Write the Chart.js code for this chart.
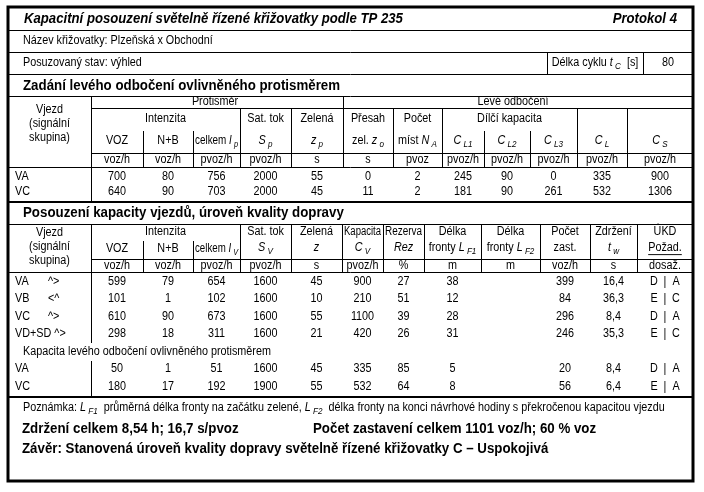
<!DOCTYPE html>
<html>
<head>
<meta charset="utf-8">
<script src="https://cdn.jsdelivr.net/npm/chart.js@4"></script>
<style>
  html, body { margin: 0; padding: 0; background: #fff; }
  canvas { display: block; }
</style>
</head>
<body>
<canvas id="protokol" width="704" height="492"></canvas>
<script>
// ---- hodnoty z protokolu ----
const nazevKrizovatky = 'Plzeňská x Obchodní';
const stav = 'výhled';
const delkaCyklu = 80;

// zadání levého odbočení ovlivněného protisměrem
const lo_vjezd = ['VA', 'VC'];
const lo_voz = [700, 640];
const lo_nb = [80, 90];
const lo_ip = [756, 703];
const lo_sp = [2000, 2000];
const lo_zp = [55, 45];
const lo_zo = [0, 11];
const lo_na = [2, 2];
const lo_cl1 = [245, 181];
const lo_cl2 = [90, 90];
const lo_cl3 = [0, 261];
const lo_cl = [335, 532];
const lo_cs = [900, 1306];

// posouzení kapacity vjezdů
const pk_vjezd = ['VA', 'VB', 'VC', 'VD+SD', 'VA', 'VC'];
const pk_smer = ['^>', '<^', '^>', '^>', '', ''];
const pk_voz = [599, 101, 610, 298, 50, 180];
const pk_nb = [79, 1, 90, 18, 1, 17];
const pk_iv = [654, 102, 673, 311, 51, 192];
const pk_sv = [1600, 1600, 1600, 1600, 1600, 1900];
const pk_z = [45, 10, 55, 21, 45, 55];
const pk_cv = [900, 210, 1100, 420, 335, 532];
const pk_rez = [27, 51, 39, 26, 85, 64];
const pk_lf1 = [38, 12, 28, 31, 5, 8];
const pk_lf2 = ['', '', '', '', '', ''];
const pk_zast = [399, 84, 296, 246, 20, 56];
const pk_tw = ['16,4', '36,3', '8,4', '35,3', '8,4', '6,4'];
const pk_ukdPoz = ['D', 'E', 'D', 'E', 'D', 'E'];
const pk_ukdDos = ['A', 'C', 'A', 'C', 'A', 'A'];

const zdrzeniH = '8,54';
const zdrzeniS = '16,7';
const zastaveni = 1101;
const zastaveniPct = 60;
const urovenKvality = 'C – Uspokojivá';

// ---- rozvržení (px v souřadnicích os) ----
const W = 704, H = 492;
const sloupce1 = [8, 91, 143, 193, 240, 291, 343, 393, 442, 484, 530, 577, 627, 693];
const sloupce2 = [8, 91, 143, 193, 240, 291, 342, 383, 424, 481, 540, 590, 637, 693];
const radky1 = [176.5, 192];
const radky2 = [281.5, 299, 316.5, 334, 369, 387];
const radekKapacitaLO = 352;

const FONT = '"Liberation Sans", Arial, Helvetica, sans-serif';
const SX = 0.9;   // text je v předloze mírně zúžený

function stred(edges, i, j) {
  j = j === undefined ? i : j;
  return (edges[i] + edges[j + 1]) / 2;
}
function sirka(edges, i, j) {
  j = j === undefined ? i : j;
  return edges[j + 1] - edges[i] - 4;
}

const tabulkaPlugin = {
  id: 'tabulka',
  afterDraw(chart) {
    const ctx = chart.ctx;
    const sx = chart.scales.x, sy = chart.scales.y;
    const X = v => sx.getPixelForValue(v);
    const Y = v => sy.getPixelForValue(v);

    ctx.save();
    ctx.fillStyle = '#fff';
    ctx.fillRect(0, 0, W, H);
    ctx.strokeStyle = '#000';
    ctx.fillStyle = '#000';
    ctx.textBaseline = 'middle';

    function hline(x1, x2, y, w) {
      w = w || 1;
      const yy = Math.round(Y(y)) + (w % 2 ? 0.5 : 0);
      ctx.lineWidth = w;
      ctx.beginPath(); ctx.moveTo(X(x1), yy); ctx.lineTo(X(x2), yy); ctx.stroke();
    }
    function vline(x, y1, y2, w) {
      w = w || 1;
      const xx = Math.round(X(x)) + (w % 2 ? 0.5 : 0);
      ctx.lineWidth = w;
      ctx.beginPath(); ctx.moveTo(xx, Y(y1)); ctx.lineTo(xx, Y(y2)); ctx.stroke();
    }

    // segs: řetězec nebo pole [text, 'i' kurzíva | 's' index | 'u' podtržení]
    function text(segs, x, y, align, o) {
      o = Object.assign({ size: 12, bold: false, italic: false, sx: SX, maxW: 0 }, o || {});
      if (!Array.isArray(segs)) segs = [[String(segs)]];
      const parts = segs.map(s => Array.isArray(s) ? s : [s]);
      const fontOf = f => {
        const it = o.italic || f === 'i' || f === 's';
        const sz = f === 's' ? Math.round(o.size * 0.72) : o.size;
        return (it ? 'italic ' : '') + (o.bold ? 'bold ' : '') + sz + 'px ' + FONT;
      };
      let total = 0;
      const widths = parts.map(p => {
        ctx.font = fontOf(p[1]);
        const w = ctx.measureText(p[0]).width;
        total += w;
        return w;
      });
      let k = o.sx;
      if (o.maxW && total * k > o.maxW) k = o.maxW / total;
      let x0 = X(x);
      if (align === 'center') x0 -= total * k / 2;
      else if (align === 'right') x0 -= total * k;
      ctx.save();
      ctx.translate(x0, Y(y));
      ctx.scale(k, 1);
      let cx = 0;
      parts.forEach((p, n) => {
        ctx.font = fontOf(p[1]);
        const dy = p[1] === 's' ? o.size * 0.3 : 0;
        ctx.fillText(p[0], cx, dy);
        if (p[1] === 'u') {
          ctx.lineWidth = 1;
          ctx.beginPath();
          ctx.moveTo(cx, o.size * 0.55);
          ctx.lineTo(cx + widths[n], o.size * 0.55);
          ctx.stroke();
        }
        cx += widths[n];
      });
      ctx.restore();
      return x0 + total * k;
    }
    const bunka = (segs, edges, i, y, j) =>
      text(segs, stred(edges, i, j), y, 'center', { maxW: sirka(edges, i, j) });

    // ---- hlavička protokolu ----
    text('Kapacitní posouzení světelně řízené křižovatky podle TP 235', 24, 19, 'left',
      { size: 14, bold: true, italic: true, sx: 0.94 });
    text('Protokol 4', 677, 19, 'right', { size: 14, bold: true, italic: true, sx: 0.94 });
    hline(8, 693, 30);
    text('Název křižovatky: ' + nazevKrizovatky, 23, 41, 'left');
    hline(8, 693, 52);
    text('Posuzovaný stav: ' + stav, 23, 63, 'left');
    vline(547, 52, 74);
    vline(643, 52, 74);
    text(['Délka cyklu ', ['t', 'i'], [' C', 's'], '  [s]'], 595, 63, 'center');
    text(String(delkaCyklu), 668, 63, 'center');
    hline(8, 693, 74);

    // ---- zadání levého odbočení ----
    const c1 = sloupce1;
    text('Zadání levého odbočení ovlivněného protisměrem', 23, 86, 'left',
      { size: 14, bold: true, sx: 0.95 });
    hline(8, 693, 96);
    bunka('Vjezd', c1, 0, 110);
    bunka('(signální', c1, 0, 124);
    bunka('skupina)', c1, 0, 138);
    text('Protisměr', 215, 101.5, 'center');
    text('Levé odbočení', 513, 101.5, 'center');
    hline(91, 693, 108);
    bunka('Intenzita', c1, 1, 119, 3);
    bunka('Sat. tok', c1, 4, 119);
    bunka('Zelená', c1, 5, 119);
    bunka('Přesah', c1, 6, 119);
    bunka('Počet', c1, 7, 119);
    bunka('Dílčí kapacita', c1, 8, 119, 10);
    bunka('VOZ', c1, 1, 141);
    bunka('N+B', c1, 2, 141);
    bunka(['celkem ', ['I', 'i'], [' p', 's']], c1, 3, 141);
    bunka([['S', 'i'], [' p', 's']], c1, 4, 141);
    bunka([['z', 'i'], [' p', 's']], c1, 5, 141);
    bunka(['zel. ', ['z', 'i'], [' o', 's']], c1, 6, 141);
    bunka(['míst ', ['N', 'i'], [' A', 's']], c1, 7, 141);
    bunka([['C', 'i'], [' L1', 's']], c1, 8, 141);
    bunka([['C', 'i'], [' L2', 's']], c1, 9, 141);
    bunka([['C', 'i'], [' L3', 's']], c1, 10, 141);
    bunka([['C', 'i'], [' L', 's']], c1, 11, 141);
    bunka([['C', 'i'], [' S', 's']], c1, 12, 141);
    hline(91, 693, 153);
    ['voz/h', 'voz/h', 'pvoz/h', 'pvoz/h', 's', 's', 'pvoz', 'pvoz/h', 'pvoz/h', 'pvoz/h', 'pvoz/h', 'pvoz/h']
      .forEach((u, i) => bunka(u, c1, i + 1, 160));
    hline(8, 693, 167);
    vline(91, 96, 202);
    vline(343, 96, 167);
    [143, 193, 484, 530].forEach(x => vline(x, 131, 167));
    [240, 291, 393, 442, 577, 627].forEach(x => vline(x, 108, 167));

    const lo = [lo_voz, lo_nb, lo_ip, lo_sp, lo_zp, lo_zo, lo_na, lo_cl1, lo_cl2, lo_cl3, lo_cl, lo_cs];
    lo_vjezd.forEach((v, r) => {
      text(v, 15, radky1[r], 'left');
      lo.forEach((col, i) => bunka(String(col[r]), c1, i + 1, radky1[r]));
    });
    hline(8, 693, 202, 2);

    // ---- posouzení kapacity vjezdů ----
    const c2 = sloupce2;
    text('Posouzení kapacity vjezdů, úroveň kvality dopravy', 23, 213, 'left',
      { size: 14, bold: true, sx: 0.95 });
    hline(8, 693, 224);
    bunka('Vjezd', c2, 0, 233);
    bunka('(signální', c2, 0, 247);
    bunka('skupina)', c2, 0, 261);
    bunka('Intenzita', c2, 1, 232, 3);
    bunka('VOZ', c2, 1, 249);
    bunka('N+B', c2, 2, 249);
    bunka(['celkem ', ['I', 'i'], [' V', 's']], c2, 3, 249);
    const hlav2 = [
      ['Sat. tok', [['S', 'i'], [' V', 's']]],
      ['Zelená', [['z', 'i']]],
      ['Kapacita', [['C', 'i'], [' V', 's']]],
      ['Rezerva', [['Rez', 'i']]],
      ['Délka', ['fronty ', ['L', 'i'], [' F1', 's']]],
      ['Délka', ['fronty ', ['L', 'i'], [' F2', 's']]],
      ['Počet', ['zast.']],
      ['Zdržení', [['t', 'i'], [' w', 's']]],
      ['ÚKD', [['Požad.', 'u']]]
    ];
    hlav2.forEach((h, i) => {
      bunka(h[0], c2, i + 4, 232);
      bunka(h[1], c2, i + 4, 248);
    });
    hline(91, 693, 259);
    ['voz/h', 'voz/h', 'pvoz/h', 'pvoz/h', 's', 'pvoz/h', '%', 'm', 'm', 'voz/h', 's', 'dosaž.']
      .forEach((u, i) => bunka(u, c2, i + 1, 265.5));
    hline(8, 693, 272);
    c2.slice(4, 13).forEach(x => vline(x, 224, 272));
    [143, 193].forEach(x => vline(x, 241, 272));
    vline(91, 224, 343);
    vline(91, 361, 397);

    const pk = [pk_voz, pk_nb, pk_iv, pk_sv, pk_z, pk_cv, pk_rez, pk_lf1, pk_lf2, pk_zast, pk_tw];
    pk_vjezd.forEach((v, r) => {
      const y = radky2[r];
      const konec = text(v, 15, y, 'left');
      if (pk_smer[r]) text(pk_smer[r], Math.max(48, konec + 3), y, 'left');
      pk.forEach((col, i) => bunka(String(col[r]), c2, i + 1, y));
      const cu = stred(c2, 12);
      text(pk_ukdPoz[r], cu - 11, y, 'center');
      text('|', cu, y, 'center');
      text(pk_ukdDos[r], cu + 11, y, 'center');
    });
    text('Kapacita levého odbočení ovlivněného protisměrem', 23, radekKapacitaLO, 'left');
    hline(8, 693, 397, 2);

    // ---- poznámka a závěr ----
    text(['Poznámka: ', ['L', 'i'], [' F1', 's'], '  průměrná délka fronty na začátku zelené, ',
      ['L', 'i'], [' F2', 's'], '  délka fronty na konci návrhové hodiny s překročenou kapacitou vjezdu'],
      23, 408, 'left');
    text('Zdržení celkem ' + zdrzeniH + ' h; ' + zdrzeniS + ' s/pvoz', 22, 429, 'left',
      { size: 14, bold: true, sx: 0.95 });
    text('Počet zastavení celkem ' + zastaveni + ' voz/h; ' + zastaveniPct + ' % voz', 313, 429, 'left',
      { size: 14, bold: true, sx: 0.95 });
    text('Závěr: Stanovená úroveň kvality dopravy světelně řízené křižovatky ' + urovenKvality,
      22, 449, 'left', { size: 14, bold: true, sx: 0.95 });

    // vnější rámeček
    ctx.lineWidth = 3;
    ctx.strokeRect(X(8), Y(7), X(693) - X(8), Y(481) - Y(7));
    ctx.restore();
  }
};

new Chart(document.getElementById('protokol'), {
  type: 'scatter',
  data: { datasets: [] },
  options: {
    responsive: false,
    animation: false,
    devicePixelRatio: 1,
    layout: { padding: 0 },
    plugins: { legend: { display: false }, tooltip: { enabled: false } },
    scales: {
      x: { type: 'linear', min: 0, max: W, display: false },
      y: { type: 'linear', min: 0, max: H, reverse: true, display: false }
    }
  },
  plugins: [tabulkaPlugin]
});
</script>
</body>
</html>
